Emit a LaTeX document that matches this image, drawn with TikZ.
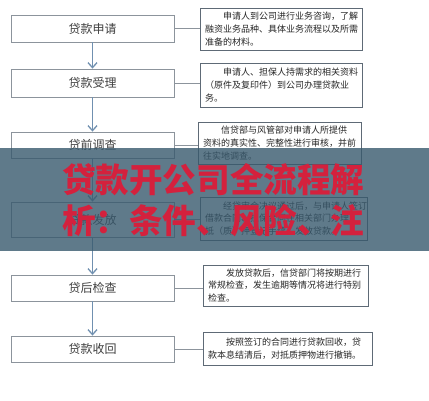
\documentclass[tikz,border=0pt]{standalone}
\usepackage{fontspec}
\newfontfamily\cjk{Noto Sans CJK SC}
\usetikzlibrary{arrows.meta}
\definecolor{lbord}{HTML}{8C949C}
\definecolor{rbord}{HTML}{5E6A76}
\definecolor{arrowc}{HTML}{7090B0}
\definecolor{ltext}{HTML}{404040}
\definecolor{rtext}{HTML}{262626}
\definecolor{bandc}{HTML}{38596D}
\definecolor{redc}{HTML}{D4213D}
\begin{document}
\begin{tikzpicture}[x=1pt,y=-1pt,
  lbox/.style={draw=lbord, line width=0.8pt, minimum width=163pt, inner sep=0pt,
    text=ltext, font=\cjk\fontsize{12}{14}\selectfont},
  rbox/.style={draw=rbord, line width=1pt, inner xsep=5pt, inner ysep=0pt, align=left,
    text=rtext, font=\cjk\fontsize{9}{12.6}\selectfont},
  flow/.style={draw=arrowc, line width=1.3pt, -{Straight Barb[length=5pt,width=9pt]}},
  link/.style={draw=lbord, line width=0.8pt},
  bigred/.style={anchor=west, inner sep=0pt, text=redc, font=\cjk\bfseries\fontsize{33.6}{36}\selectfont}
]
\useasboundingbox (0,0) rectangle (429,400);
\fill[white] (0,0) rectangle (429,400);

% left flow boxes
\node[lbox, minimum height=27pt] (L1) at (92.5,28.5) {贷款申请};
\node[lbox, minimum height=28pt] (L2) at (92.5,83) {贷款受理};
\node[lbox, minimum height=26pt] (L3) at (92.5,145) {贷前调查};
\node[lbox, minimum height=35pt] (L4) at (92.5,219.5) {贷款发放};
\node[lbox, minimum height=26pt] (L5) at (92.5,288) {贷后检查};
\node[lbox, minimum height=26pt] (L6) at (92.5,349) {贷款收回};

% right description boxes
\node[rbox, text width=152pt, minimum height=42pt] (R1) at (281,29)
  {\hspace*{2em}申请人到公司进行业务咨询，了解\\融资业务品种、具体业务流程以及所需\\准备的材料。};
\node[rbox, text width=152pt, minimum height=44pt] (R2) at (281,85)
  {\hspace*{2em}申请人、担保人持需求的相关资料\\（原件及复印件）到公司办理贷款业\\务。};
\node[rbox, text width=153pt, minimum height=42pt] (R3) at (279.5,143)
  {\hspace*{2em}信贷部与风管部对申请人所提供\\资料的真实性、完整性进行审核，并前\\往实地调查。};
\node[rbox, text width=157pt, minimum height=43pt] (R4) at (283.5,218.5)
  {\hspace*{2em}经贷审会决议通过后，与申请人签订\\借款合同、担保合同在相关部门办理\\抵（质）押登记手续，发放贷款。};
\node[rbox, text width=155pt, minimum height=41pt] (R5) at (285.5,285.5)
  {\hspace*{2em}发放贷款后，信贷部门将按期进行\\常规检查，发生逾期等情况将进行特别\\检查。};
\node[rbox, text width=159pt, minimum height=33pt] (R6) at (287.5,348.5)
  {\hspace*{2em}按照签订的合同进行贷款回收，贷\\款本息结清后，对抵质押物进行撤销。};

% arrows
\draw[flow] (L1) -- (L2);
\draw[flow] (L2) -- (L3);
\draw[flow] (L3) -- (L4);
\draw[flow] (L4) -- (L5);
\draw[flow] (L5) -- (L6);

% links
\draw[link] (L1.east) -- (L1.east -| R1.west);
\draw[link] (L2.east) -- (L2.east -| R2.west);
\draw[link] (L3.east) -- (L3.east -| R3.west);
\draw[link] (L4.east) -- (L4.east -| R4.west);
\draw[link] (L5.east) -- (L5.east -| R5.west);
\draw[link] (L6.east) -- (L6.east -| R6.west);

% overlay band
\fill[bandc, fill opacity=0.8] (0,148) rectangle (429,251);
\node[bigred] (T1) at (62,180) {贷款开公司全流程解};
\node[bigred] (T2) at (62,221) {析：条件、风险、注};
\end{tikzpicture}
\end{document}
